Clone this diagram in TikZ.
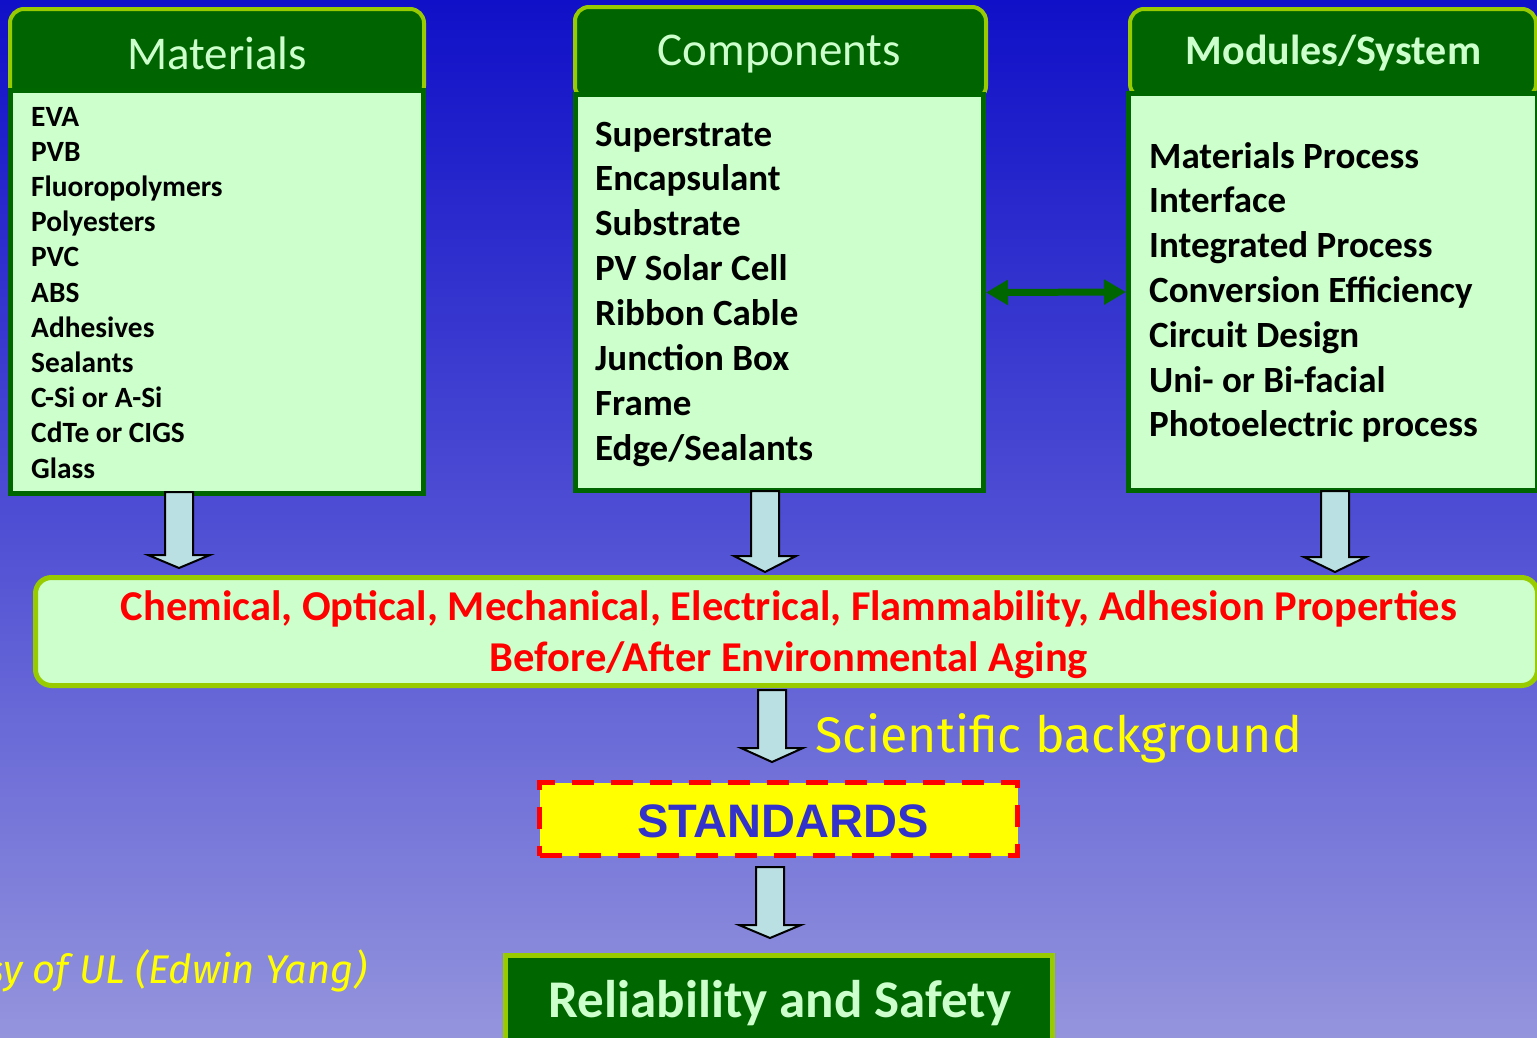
\documentclass[tikz,border=0pt]{standalone}
\usepackage{fontspec}
\setmainfont{Carlito}
\newfontfamily\arialfont{Liberation Sans}
\newfontfamily\comicfont{Fira Sans}
\usetikzlibrary{arrows.meta,calc}
\definecolor{hdrgreen}{HTML}{006400}
\definecolor{bordgreen}{HTML}{006600}
\definecolor{limeb}{HTML}{99CC00}
\definecolor{pale}{HTML}{CCFFCC}
\definecolor{arrowblue}{HTML}{BBE0E3}
\definecolor{txtred}{HTML}{FF0000}
\definecolor{stdblue}{HTML}{3333CC}
\definecolor{bgtop}{HTML}{1010C8}
\definecolor{bgmid}{HTML}{4E4ED4}
\definecolor{bgbot}{HTML}{9494DD}
\definecolor{yel}{HTML}{FFFF00}
\tikzset{
  hdrbox/.style={draw=limeb, fill=hdrgreen, line width=4pt, rounded corners=14pt, inner sep=0pt},
  bodybox/.style={draw=bordgreen, fill=pale, line width=5pt, inner sep=0pt},
  hdrtext/.style={text=pale, inner sep=0pt, anchor=base},
  listtext/.style={text=black, inner sep=0pt, anchor=base west, font=\bfseries},
  blockarrow/.style={draw=black, fill=arrowblue, line width=2pt, line join=miter},
  propbox/.style={draw=limeb, fill=pale, line width=5pt, rounded corners=16pt, inner sep=0pt},
  stdbox/.style={draw=txtred, fill=yel, line width=5pt, dash pattern=on 22pt off 17pt, inner sep=0pt},
  relbox/.style={draw=limeb, fill=bordgreen, line width=5pt, inner sep=0pt},
}
\newcommand\blockarrow[3]{%
  \draw[blockarrow] ([xshift=-14pt]#1) -- ([xshift=14pt]#1) -- ([xshift=14pt,yshift=#3]#2)
    -- ([xshift=31pt,yshift=#3]#2) -- (#2) -- ([xshift=-31pt,yshift=#3]#2)
    -- ([xshift=-14pt,yshift=#3]#2) -- cycle;}
\begin{document}
\begin{tikzpicture}[x=1pt,y=-1pt]
\useasboundingbox (0,0) rectangle (1537,1037);
\clip (0,0) rectangle (1537,1037);
\shade[top color=bgtop, bottom color=bgbot, middle color=bgmid] (0,0) rectangle (1537,1037);

% headers
\node[hdrbox, minimum width=414pt, minimum height=91pt] (mh) at (217,54.5) {};
\node[hdrbox, minimum width=411pt, minimum height=93pt] (ch) at (780.5,53.5) {};
\node[hdrbox, minimum width=406pt, minimum height=89pt] (sh) at (1333,53.5) {};
% bodies
\node[bodybox, minimum width=413pt, minimum height=403pt] (mb) at (217,292) {};
\node[bodybox, minimum width=408pt, minimum height=396pt] (cb) at (779.5,292.5) {};
\node[bodybox, minimum width=409pt, minimum height=397pt] (sb) at (1333,292) {};

% header texts
\node[hdrtext, font=\fontsize{47}{56}\selectfont] (mht) at (217,69) {Materials};
\node[hdrtext, font=\fontsize{47}{56}\selectfont] (cht) at (779.5,65) {Components};
\node[hdrtext, font=\fontsize{42}{50}\selectfont\bfseries] (sht) at (1333.5,64) {Modules/System};

% lists
\foreach \t [count=\i] in {EVA,PVB,Fluoropolymers,Polyesters,PVC,ABS,Adhesives,Sealants,C-Si or A-Si,CdTe or CIGS,Glass}
  \node[listtext, font=\fontsize{29.4}{34}\selectfont\bfseries] (ml\i) at (31,{126+35.2*(\i-1)}) {\t};
\foreach \t [count=\i] in {Superstrate,Encapsulant,Substrate,PV Solar Cell,Ribbon Cable,Junction Box,Frame,Edge/Sealants}
  \node[listtext, font=\fontsize{37}{44}\selectfont\bfseries] (cl\i) at (595,{146+44.9*(\i-1)}) {\t};
\foreach \t [count=\i] in {Materials Process,Interface,Integrated Process,Conversion Efficiency,Circuit Design,Uni- or Bi-facial,Photoelectric process}
  \node[listtext, font=\fontsize{37}{44}\selectfont\bfseries] (sl\i) at (1149,{168+44.8*(\i-1)}) {\t};

% double arrow
\draw[line width=7pt, draw=bordgreen, {Triangle[length=22pt,width=24pt]}-{Triangle[length=22pt,width=24pt]}] (cb.east) -- (sb.west);

% properties box
\node[propbox, minimum width=1502pt, minimum height=108pt] (pb) at (786.5,631.5) {};
\node[anchor=base, inner sep=0pt, text=txtred, font=\fontsize{42.5}{50}\selectfont\bfseries] (pt1) at (789,620)
  {Chemical, Optical, Mechanical, Electrical, Flammability, Adhesion Properties};
\node[anchor=base, inner sep=0pt, text=txtred, font=\fontsize{42.5}{50}\selectfont\bfseries] (pt2) at (789,671)
  {Before/After Environmental Aging};

% block arrows top
\coordinate (a1s) at (179,492); \coordinate (a1e) at (179,568);
\coordinate (a2s) at (765,491); \coordinate (a2e) at (765,572);
\coordinate (a3s) at (1335,491); \coordinate (a3e) at (1335,572);
\blockarrow{a1s}{a1e}{13pt}
\blockarrow{a2s}{a2e}{16pt}
\blockarrow{a3s}{a3e}{15pt}

% standards
\node[stdbox, minimum width=478pt, minimum height=73pt] (std) at (778.5,819) {};
\node[anchor=base, inner sep=0pt, text=stdblue, font=\fontsize{47}{56}\selectfont\arialfont\bfseries] (stdt) at (783,837) {STANDARDS};

\coordinate (a4s) at (772,690); \coordinate (a4e) at (772,762);
\blockarrow{a4s}{a4e}{14pt}
\node[anchor=base west, inner sep=0pt, text=yel, font=\fontsize{50}{58}\selectfont\comicfont] (sci) at (815,752) {Scientific background};

% reliability
\node[relbox, minimum width=547pt, minimum height=104.5pt] (rel) at (779,1007.75) {};
\node[anchor=base, inner sep=0pt, text=pale, font=\fontsize{53}{62}\selectfont\bfseries] (relt) at (780,1017) {Reliability and Safety};

\coordinate (a5s) at (770,867); \coordinate (a5e) at (770,938);
\blockarrow{a5s}{a5e}{13pt}

% courtesy
\node[anchor=base east, inner sep=0pt, text=yel, font=\fontsize{40}{48}\selectfont\comicfont\itshape] (cour) at (367,983) {Courtesy of UL (Edwin Yang)};
\end{tikzpicture}
\end{document}
